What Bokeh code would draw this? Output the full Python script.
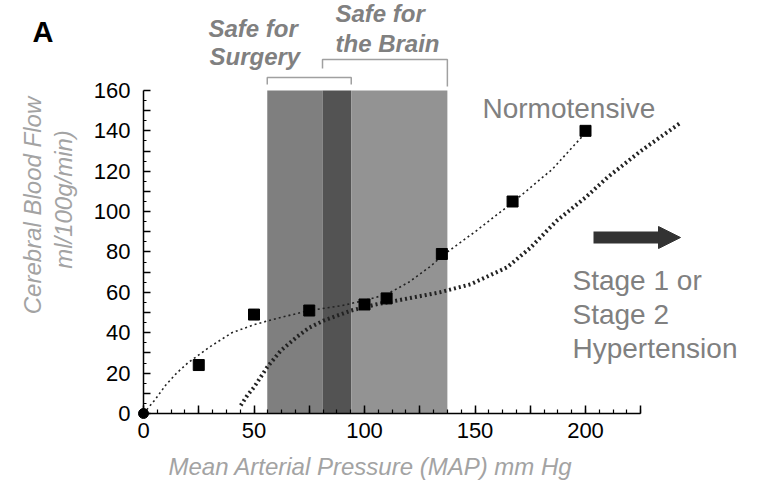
import numpy as np
from bokeh.plotting import figure
from bokeh.models import FixedTicker, Label, Arrow, NormalHead, Range1d
from bokeh.embed import file_html
from bokeh.resources import INLINE

# ---------------- data ----------------
map_points = [25, 50, 75, 100, 110, 135, 167, 200]          # mm Hg
cbf_points = [24, 49, 51, 54, 57, 79, 105, 140]             # ml/100g/min
origin_x = [0]
origin_y = [0]

normo_curve_x = [0, 5, 10, 15, 20, 25, 30, 40, 50, 60, 75, 90, 100, 110, 120, 130, 135, 150, 167, 185, 200]
normo_curve_y = [0, 6.5, 14, 20, 25, 29, 33, 40, 44, 47, 51, 53.5, 56, 59, 65, 73, 78, 90, 104.5, 121, 139]

htn_curve_x = [44, 47, 50, 56, 62, 69.5, 75, 81.5, 94, 105, 115, 134, 148, 164.5, 175, 187, 200, 210, 225, 243]
htn_curve_y = [4, 9, 13, 23, 31, 38, 42.5, 46, 51, 54, 56, 60, 64, 72.4, 82, 95.5, 107, 117, 130, 144]

surgery_range = [56, 94]
brain_range = [81, 137.5]
band_top = 160

x_ticks = [0, 25, 50, 75, 100, 125, 150, 175, 200, 225]
x_labelled = [0, 50, 100, 150, 200]
y_ticks = list(range(0, 161, 10))
y_labelled = list(range(0, 161, 20))

# ------------- layout helpers (annotation placement, page px -> data) -------------
W, H = 775, 486
PX_X = 2.21
PX_Y = 2.019
def X(sx):
    return (sx - 143) / PX_X
def Y(sy):
    return (413 - sy) / PX_Y

FONT = "Liberation Sans"
GRAY = "#808080"
LGRAY = "#a3a3a3"

p = figure(width=W, height=H, output_backend="svg", toolbar_location=None,
           x_range=Range1d(X(0), X(W)), y_range=Range1d(Y(H), Y(0)),
           min_border_left=0, min_border_right=0, min_border_top=0, min_border_bottom=0)
p.title.visible = False
p.outline_line_color = None
p.xgrid.visible = False
p.ygrid.visible = False
p.background_fill_color = "white"
p.border_fill_color = "white"

# shaded bands
band_left = [surgery_range[0], brain_range[0], surgery_range[1]]
band_right = [brain_range[0], surgery_range[1], brain_range[1]]
band_colors = ["#7f7f7f", "#535353", "#939393"]
p.quad(left=band_left, right=band_right, bottom=0, top=band_top,
       fill_color=band_colors, line_color=None)

# curves
p.line(normo_curve_x, normo_curve_y, line_color="#222222", line_width=1.6, line_dash="2 3")
p.line(htn_curve_x, htn_curve_y, line_color="#222222", line_width=4, line_dash="2 3")

# points
p.scatter(map_points, cbf_points, marker="square", size=11, fill_color="black", line_color="black")
origin = p.scatter(origin_x, origin_y, marker="circle", size=10, fill_color="black", line_color="black")
origin.level = "overlay"

# brackets
bxs = [[surgery_range[0], surgery_range[0], surgery_range[1], surgery_range[1]],
       [brain_range[0], brain_range[0], brain_range[1], brain_range[1]]]
bys = [[Y(84), Y(77), Y(77), Y(84)],
       [Y(68), Y(59), Y(59), Y(86)]]
p.multi_line(bxs, bys, line_color="#a0a0a0", line_width=1.5)

# arrow
p.add_layout(Arrow(x_start=X(593), y_start=Y(237), x_end=X(680), y_end=Y(237),
                   line_width=12, line_color="#333333",
                   end=NormalHead(size=22, fill_color="#333333", line_color="#333333")))

# axes (placed at data 0 inside the full-canvas frame)
xa = p.xaxis[0]
ya = p.yaxis[0]
xa.fixed_location = 0
ya.fixed_location = 0
xa.bounds = (0, 225)
ya.bounds = (0, 160)
xa.ticker = FixedTicker(ticks=x_ticks, minor_ticks=list(np.arange(0, 225.01, 6.25)))
ya.ticker = FixedTicker(ticks=y_ticks, minor_ticks=list(range(5, 160, 10)))
xa.major_label_overrides = {t: "" for t in x_ticks if t not in x_labelled}
ya.major_label_overrides = {t: "" for t in y_ticks if t not in y_labelled}
for ax in (xa, ya):
    ax.axis_line_color = "black"
    ax.axis_line_width = 1.5
    ax.major_tick_line_color = "black"
    ax.minor_tick_line_color = "black"
    ax.major_tick_line_width = 1.5
    ax.minor_tick_line_width = 1.2
    ax.major_tick_out = 0
    ax.minor_tick_out = 0
    ax.major_label_text_font = FONT
    ax.major_label_text_font_size = "22px"
    ax.major_label_text_color = "black"
xa.major_tick_in = 8
xa.minor_tick_in = 4
ya.major_tick_in = 7
ya.minor_tick_in = 3
xa.major_label_standoff = 9
ya.major_label_standoff = 13

def lab(text, sx, sy, size, color, style="normal", angle=0, align="left", baseline="alphabetic"):
    px = float(size.replace("px", ""))
    if baseline == "alphabetic":
        sy = sy - 0.39 * px
    p.add_layout(Label(x=X(sx), y=Y(sy), text=text, text_font=FONT, text_font_size=size,
                       text_color=color, text_font_style=style, angle=angle,
                       text_align=align, text_baseline=baseline))

lab("Cerebral Blood Flow", 32, 205, "24px", LGRAY, "italic", np.pi / 2, "center", "middle")
lab("ml/100g/min)", 63, 199, "24px", LGRAY, "italic", np.pi / 2, "center", "middle")
lab("Mean Arterial Pressure (MAP) mm Hg", 370, 475, "24px", LGRAY, "italic", 0, "center")

lab("A", 32, 43, "29px", "black", "bold")
lab("Safe for", 208, 37, "24px", GRAY, "bold italic")
lab("Surgery", 209, 65, "24px", GRAY, "bold italic")
lab("Safe for", 335, 22, "24px", GRAY, "bold italic")
lab("the Brain", 335, 52, "24px", GRAY, "bold italic")
lab("Normotensive", 482, 119, "28px", GRAY)
lab("Stage 1 or", 572, 291, "28px", GRAY)
lab("Stage 2", 572, 325, "28px", GRAY)
lab("Hypertension", 572, 359, "28px", GRAY)

open("out.html", "w").write(file_html(p, INLINE))
